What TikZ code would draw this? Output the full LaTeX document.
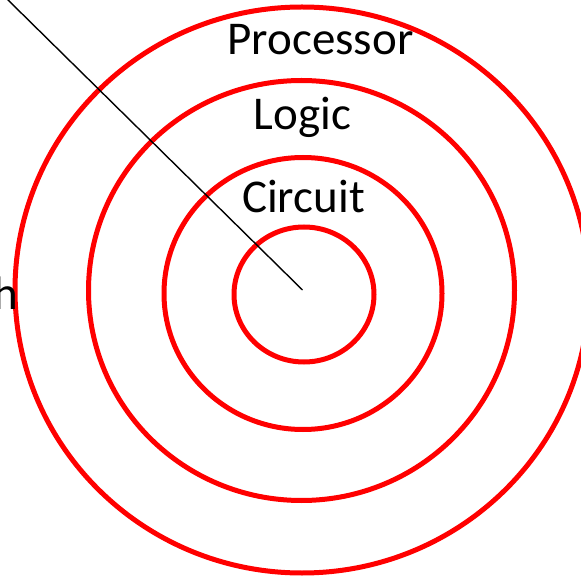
\documentclass[tikz,border=0pt]{standalone}
\usepackage{fontspec}
\setmainfont{Carlito}
\begin{document}
\begin{tikzpicture}[x=1pt,y=-1pt,
  ring/.style={draw=red,line width=5pt},
  lbl/.style={anchor=base,inner sep=0pt,font=\fontsize{47}{54}\selectfont},
  pointer/.style={draw=black,line width=1.4pt}]
\useasboundingbox (0,0) rectangle (581,577);
\clip (0,0) rectangle (581,577);
\coordinate (c1) at (302,290);
\coordinate (c2) at (301.5,290.5);
\coordinate (c3) at (303,293.5);
\coordinate (c4) at (304,294.5);
\draw[ring] (c1) ellipse [x radius=287, y radius=283];
\draw[ring] (c2) ellipse [x radius=213, y radius=210];
\draw[ring] (c3) ellipse [x radius=139, y radius=136];
\draw[ring] (c4) ellipse [x radius=70, y radius=67.5];
\node[lbl] (proc) at (320.5,55) {Processor};
\node[lbl] (logic) at (302.5,130) {Logic};
\node[lbl] (circ) at (303.5,213) {Circuit};
\node[lbl,anchor=base east] (h) at (18,310) {h};
\coordinate (start) at (6,-2);
\coordinate (tip) at (302.5,290);
\draw[pointer] (start) -- (tip);
\end{tikzpicture}
\end{document}
